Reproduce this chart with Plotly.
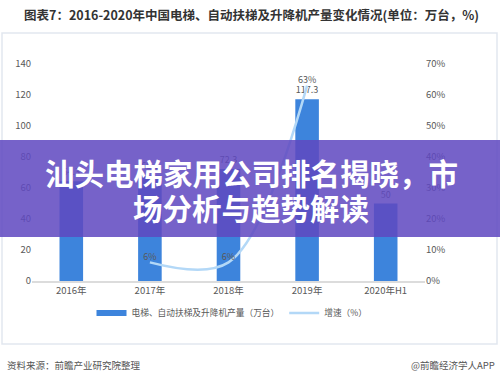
import plotly.graph_objects as go

categories = ["2016年", "2017年", "2018年", "2019年", "2020年H1"]
production = [64.3, 68.1, 72.3, 117.3, 50]
production_labels = ["64.3", "68.1", "72.3", "117.3", "50"]
growth_x = ["2017年", "2018年", "2019年"]
growth = [6, 6, 63]
growth_labels = ["6%", "6%", "63%"]
left_ticks = [0, 20, 40, 60, 80, 100, 120, 140]
right_ticks = [0, 10, 20, 30, 40, 50, 60, 70]
right_tick_labels = [f"{v}%" for v in right_ticks]

FONT = "Noto Sans CJK SC"
GRAY = "#595959"
BAR_BLUE = "#3d84dc"

fig = go.Figure()
fig.add_trace(go.Bar(
    x=categories, y=production, name="电梯、自动扶梯及升降机产量（万台）",
    marker=dict(color=BAR_BLUE, line=dict(width=0)), showlegend=False,
    text=production_labels, textposition="outside", cliponaxis=False,
    textfont=dict(size=9, color=GRAY, family=FONT),
))
# legend swatch for the bars (flat wide rectangle as in the reference)
fig.add_trace(go.Scatter(
    x=[None], y=[None], name="电梯、自动扶梯及升降机产量（万台）",
    mode="lines", line=dict(color=BAR_BLUE, width=6),
))
fig.add_trace(go.Scatter(
    x=growth_x, y=growth, name="增速（%）", yaxis="y2",
    mode="lines+text", line=dict(color="#b3d8f7", width=2.5, shape="spline", smoothing=1.0),
    text=growth_labels, textposition="top center", cliponaxis=False,
    textfont=dict(size=9, color=GRAY, family=FONT),
))

W, H = 500, 378
L, R, T, B = 32, 75, 64, 97
pw, ph = W - L - R, H - T - B

def px(x):
    return (x - L) / pw

def py(y):
    return (H - B - y) / ph

fig.update_layout(
    width=W, height=H,
    margin=dict(l=L, r=R, t=T, b=B, autoexpand=False),
    paper_bgcolor="white", plot_bgcolor="white",
    font=dict(family=FONT, size=10, color=GRAY),
    bargap=0.7,
    showlegend=True,
    legend=dict(orientation="h", x=px(232), xanchor="center", y=py(313), yanchor="middle",
                font=dict(size=8.7, color=GRAY, family=FONT), itemwidth=30,
                bgcolor="rgba(0,0,0,0)"),
    xaxis=dict(showgrid=False, showline=True, linecolor="#dcdcdc", linewidth=2,
               ticks="", tickfont=dict(size=9.5, color=GRAY), fixedrange=True),
    yaxis=dict(range=[0, 140], tickvals=left_ticks, showgrid=False, zeroline=False,
               showline=False, ticks="", tickfont=dict(size=9.5, color=GRAY)),
    yaxis2=dict(range=[0, 70], tickvals=right_ticks, ticktext=right_tick_labels,
                overlaying="y", side="right", showgrid=False, zeroline=False,
                showline=False, ticks="", tickfont=dict(size=9.5, color=GRAY)),
    shapes=[
        dict(type="rect", xref="paper", yref="paper",
             x0=px(2), x1=px(497), y0=py(344), y1=py(33),
             line=dict(color="#e2e7ef", width=1.5), fillcolor="rgba(0,0,0,0)", layer="below"),
        dict(type="rect", xref="paper", yref="paper",
             x0=px(0), x1=px(500), y0=py(237), y1=py(140),
             line=dict(width=0), fillcolor="rgba(95,72,192,0.86)", layer="above"),
    ],
    annotations=[
        dict(text="<b>图表7：2016-2020年中国电梯、自动扶梯及升降机产量变化情况(单位：万台，%)</b>",
             xref="paper", yref="paper", x=px(22), y=py(15), xanchor="left", yanchor="middle",
             showarrow=False, font=dict(size=12.5, color="#333333", family=FONT)),
        dict(text="资料来源：前瞻产业研究院整理", xref="paper", yref="paper",
             x=px(5), y=py(365), xanchor="left", yanchor="middle", showarrow=False,
             font=dict(size=9.5, color="#555555", family=FONT)),
        dict(text="@前瞻经济学人APP", xref="paper", yref="paper",
             x=px(497), y=py(365), xanchor="right", yanchor="middle", showarrow=False,
             font=dict(size=9.5, color="#555555", family=FONT)),
        dict(text="<b>汕头电梯家用公司排名揭晓，市</b>", xref="paper", yref="paper",
             x=px(251), y=py(172), xanchor="center", yanchor="middle", showarrow=False,
             font=dict(size=29.5, color="white", family=FONT)),
        dict(text="<b>场分析与趋势解读</b>", xref="paper", yref="paper",
             x=px(251), y=py(207), xanchor="center", yanchor="middle", showarrow=False,
             font=dict(size=29.5, color="white", family=FONT)),
    ],
)

fig.write_html("out.html", config={"displayModeBar": False},
               post_script="document.body.style.margin='0';document.body.style.padding='0';")
